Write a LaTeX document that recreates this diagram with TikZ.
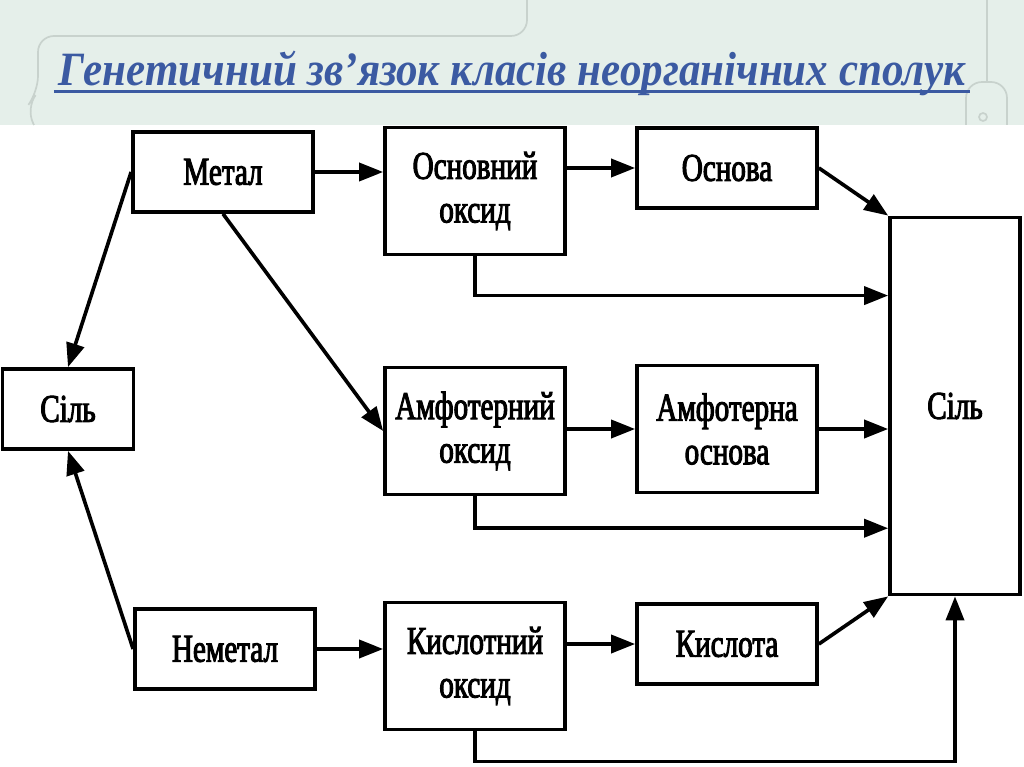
\documentclass[tikz,border=0pt]{standalone}
\usepackage{fontspec}
\setmainfont{Liberation Serif}
\newfontfamily\boxfont[FakeStretch=0.74,FakeBold=2.5]{Liberation Serif}
\newfontfamily\titlefont[FakeStretch=0.9]{Liberation Serif}
\usetikzlibrary{positioning}
\usetikzlibrary{calc,arrows.meta}
\definecolor{bandgreen}{RGB}{229,239,234}
\definecolor{decogray}{RGB}{200,210,205}
\definecolor{titleblue}{RGB}{59,90,162}

\begin{document}
\begin{tikzpicture}[x=0.025cm, y=-0.025cm,
    box/.style={draw, line width=2.6pt, minimum width=4.5cm, minimum height=2cm, align=center, inner sep=2pt, font={\boxfont\fontsize{28}{31}\selectfont}},
    tall/.style={box, minimum height=3.175cm},
    arr/.style={line width=2.6pt, -{Triangle[length=0.6cm,width=0.45cm]}},
    deco/.style={draw=decogray, line width=1.2pt, rounded corners=0.4cm}]
    \useasboundingbox (0,0) rectangle (1024,767);
    \fill[bandgreen] (0,0) rectangle (1024,125);
    \fill[white] (0,125) rectangle (1024,767);

    % background frame
    \draw[deco] (527,0) -- (527,36) -- (38,36) -- (38,92) -- (26,108) -- (34,125);
    \draw[deco] (987,0) -- (987,82);
    \draw[deco] (966,125) -- (966,82) -- (1007,82) -- (1007,125);
    \draw[decogray, line width=1.2pt] (983,117) circle (4);

    \node[text=titleblue, font={\titlefont\bfseries\itshape\fontsize{34}{36}\selectfont}] (title) at (512,73) {Генетичний зв’язок класів неорганічних сполук};
    \draw[titleblue, line width=2pt] ([yshift=-4.5pt]title.base west) -- ([yshift=-4.5pt]title.base east);

    \node[box] (metal) at (223,172) {Метал};
    \node[tall] (basox) at (475,191) {Основний\\оксид};
    \node[box] (base) at (727,168) {Основа};
    \node[box, minimum width=3.25cm, minimum height=9.425cm] (saltR) at (955,406) {Сіль};
    \node[box, minimum width=3.275cm] (saltL) at (68,409) {Сіль};
    \node[tall] (amphox) at (475,431) {Амфотерний\\оксид};
    \node[tall] (amphbase) at (727,429) {Амфотерна\\основа};
    \node[box] (nonmetal) at (225,649) {Неметал};
    \node[tall] (acidox) at (475,666) {Кислотний\\оксид};
    \node[box] (acid) at (727,644) {Кислота};

    \draw[arr] (metal.east) -- (metal.east -| basox.west);
    \draw[arr] (base.west -| basox.east) -- (base.west);
    \draw[arr] (base.east) -- (saltR.north west);
    \draw[arr] (basox.south) |- ($(saltR.north west)!0.21!(saltR.south west)$);
    \draw[arr] (metal.west) -- (saltL.north);
    \draw[arr] (metal.south) -- (amphox.west);
    \draw[arr] (amphox.east |- amphbase) -- (amphbase.west);
    \draw[arr] (amphbase.east) -- (amphbase.east -| saltR.west);
    \draw[arr] (amphox.south) |- ($(saltR.north west)!0.821!(saltR.south west)$);
    \draw[arr] (nonmetal.west) -- (saltL.south);
    \draw[arr] (nonmetal.east) -- (nonmetal.east -| acidox.west);
    \draw[arr] (acid.west -| acidox.east) -- (acid.west);
    \draw[arr] (acid.east) -- (saltR.south west);
    \draw[arr] (acidox.south) -- ++(0,30) -| (saltR.south);
\end{tikzpicture}
\end{document}
